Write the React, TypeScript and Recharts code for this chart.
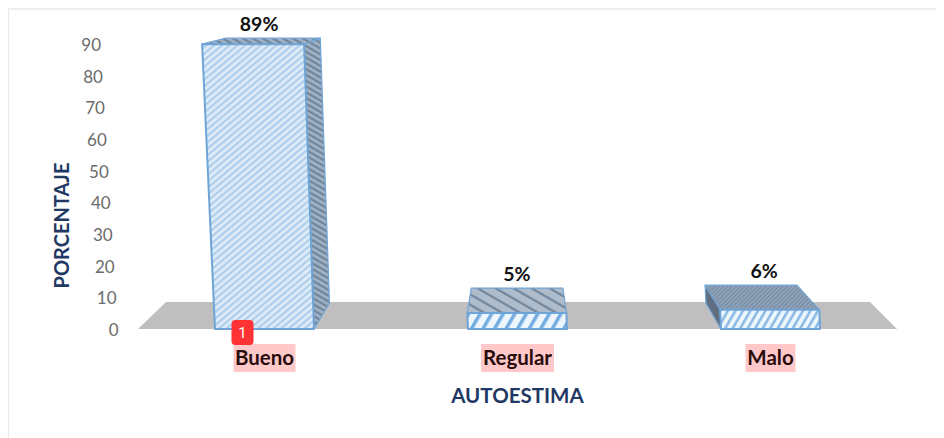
import React from "react";
import { ComposedChart, Bar, XAxis, YAxis, ReferenceArea, LabelList } from "recharts";

const categories = ["Bueno", "Regular", "Malo"];
const percentages = [89, 5, 6];
const yTicks = [0, 10, 20, 30, 40, 50, 60, 70, 80, 90];
const yMax = 90;
const floorTop = 8.5;
const xTitle = "AUTOESTIMA";
const yTitle = "PORCENTAJE";

const W = 936;
const H = 430;
const PLOT_H = 285;
const VANISH_X = 512;
const FONT = "Lato, Carlito, Calibri, sans-serif";
const NAVY = "#1f3864";
const EDGE = "#6fa5d6";
const highlightWidths = [62, 73, 50];

const rows = categories.map((name, i) => ({ name, value: percentages[i] }));

// project a point of the front face to the back of the 3D box
const back = (x: number, y: number, base: number): [number, number] => {
  const f = (base - y) / PLOT_H;
  return [x + (VANISH_X - x) * 0.075, y - (26 - 20 * f)];
};
const pts = (list: [number, number][]) => list.map((p) => p.join(",")).join(" ");

const frontStyles = [
  { size: 5, angle: 50, stripe: 2.2, bg: "#dfecf8", fg: "#aecfec" },
  { size: 10, angle: 30, stripe: 3.5, bg: "#eef6fd", fg: "#74ade2" },
  { size: 6.5, angle: 30, stripe: 2.6, bg: "#eef6fd", fg: "#8dbbe6" },
];
const darkStyles = [
  { size: 5, angle: -60, stripe: 2.2, bg: "#a0b2c5", fg: "#70859a" },
  { size: 9, angle: -60, stripe: 2.2, bg: "#aebccb", fg: "#71869c" },
  { size: 3, angle: 45, stripe: 1.5, bg: "#95a9be", fg: "#778ca3" },
];

const Box3D = (props: any) => {
  const { x, y, width, height, index } = props;
  const base = y + height;
  const f = height / PLOT_H;
  const right0 = x + width;
  const top = y - 3 * f;
  const tl: [number, number] = [x - 13 * f, top];
  const tr: [number, number] = [right0 - 10 * f, top];
  const bl: [number, number] = [x, base];
  const br: [number, number] = [right0, base];
  const btl = back(tl[0], tl[1], base);
  const btr = back(tr[0], tr[1], base);
  const bbl = back(bl[0], bl[1], base);
  const bbr = back(br[0], br[1], base);
  const fs = frontStyles[index];
  const ds = darkStyles[index];
  const fid = `front-${index}`;
  const did = `dark-${index}`;
  return (
    <g>
      <defs>
        <pattern id={fid} width={fs.size} height={fs.size} patternUnits="userSpaceOnUse" patternTransform={`rotate(${fs.angle})`}>
          <rect width={fs.size} height={fs.size} fill={fs.bg} />
          <rect width={fs.stripe} height={fs.size} fill={fs.fg} />
        </pattern>
        <pattern id={did} width={ds.size} height={ds.size} patternUnits="userSpaceOnUse" patternTransform={`rotate(${ds.angle})`}>
          <rect width={ds.size} height={ds.size} fill={ds.bg} />
          <rect width={ds.stripe} height={ds.size} fill={ds.fg} />
        </pattern>
      </defs>
      {btr[0] > tr[0] && (
        <polygon points={pts([tr, btr, bbr, br])} fill={`url(#${did})`} stroke={EDGE} strokeWidth={1.2} strokeLinejoin="round" />
      )}
      {btl[0] < tl[0] && (
        <polygon points={pts([tl, btl, bbl, bl])} fill="#5f6f80" stroke={EDGE} strokeWidth={1.2} strokeLinejoin="round" />
      )}
      <polygon points={pts([tl, btl, btr, tr])} fill={`url(#${did})`} stroke={EDGE} strokeWidth={1.2} strokeLinejoin="round" />
      <polygon points={pts([tl, tr, br, bl])} fill={`url(#${fid})`} stroke={EDGE} strokeWidth={2} strokeLinejoin="round" />
    </g>
  );
};

const Floor = (props: any) => {
  const { x, y, width, height } = props;
  return (
    <polygon
      points={pts([
        [x, y + height],
        [x + 28, y],
        [x + width - 27, y],
        [x + width, y + height],
      ])}
      fill="#bfbfbf"
    />
  );
};

const ValueLabel = (props: any) => {
  const { x, y, width, height, value } = props;
  const base = y + height;
  const f = height / PLOT_H;
  const cx = x + width / 2 - 11.5 * f;
  const top = y - 3 * f;
  const by = back(cx, top, base)[1];
  const lx = cx + (VANISH_X - cx) * 0.0225;
  return (
    <text x={lx} y={by - 14} dy="0.35em" textAnchor="middle" fontFamily={FONT} fontWeight={700} fontSize={19.5} fill="#111">
      {`${value}%`}
    </text>
  );
};

const Badge = (props: any) => {
  const { x, y, width, height, index } = props;
  if (index !== 0) return null;
  const cx = x + width / 2 - 22;
  const base = y + height;
  return (
    <g>
      <rect x={cx - 11} y={base - 9} width={22} height={25} rx={4} fill="#ff3333" />
      <text x={cx} y={base + 4} dy="0.35em" textAnchor="middle" fontFamily="Roboto, sans-serif" fontSize={15} fill="#fff">
        1
      </text>
    </g>
  );
};

const YTick = (props: any) => {
  const { y, payload } = props;
  const right = 110.5 - (17.5 * payload.value) / yMax;
  return (
    <text x={right} y={y + 1} dy="0.35em" textAnchor="end" fontFamily={FONT} fontSize={17} fill="#6b6b6b">
      {payload.value}
    </text>
  );
};

const XTick = (props: any) => {
  const { x, y, payload, index } = props;
  const w = highlightWidths[index];
  return (
    <g>
      <rect x={x - w / 2} y={y + 7} width={w} height={28} fill="#ffc9c9" />
      <text x={x} y={y + 21} dy="0.35em" textAnchor="middle" fontFamily={FONT} fontWeight={700} fontSize={20.5} fill="#2a0c0c">
        {payload.value}
      </text>
    </g>
  );
};

export default function App() {
  return (
    <div style={{ position: "relative", width: W, height: H, background: "#fff" }}>
      <div
        style={{
          position: "absolute",
          left: -1,
          top: 0,
          right: -8,
          bottom: 0,
          borderTop: "2px solid #eeeeee",
          borderLeft: "2px solid #e8e8e8",
        }}
      />
      <div style={{ position: "absolute", left: 0, top: 0 }}>
        <ComposedChart
          width={W}
          height={H}
          data={rows}
          margin={{ top: 36, right: 47, bottom: 0, left: 70 }}
        >
          <XAxis
            dataKey="name"
            axisLine={false}
            tickLine={false}
            tick={<XTick />}
            interval={0}
            height={109}
            label={{
              value: xTitle,
              position: "insideBottom",
              offset: 35,
              fontFamily: FONT,
              fontWeight: 700,
              fontSize: 20.5,
              fill: NAVY,
            }}
          />
          <YAxis
            type="number"
            domain={[0, yMax]}
            ticks={yTicks}
            width={60}
            axisLine={false}
            tickLine={false}
            tick={<YTick />}
            label={{
              value: yTitle,
              angle: -90,
              position: "center",
              dx: -46,
              dy: 39,
              fontFamily: FONT,
              fontWeight: 700,
              fontSize: 20,
              fill: NAVY,
            }}
          />
          <ReferenceArea y1={0} y2={floorTop} shape={<Floor />} ifOverflow="visible" />
          <Bar dataKey="value" barSize={99} shape={<Box3D />} isAnimationActive={false}>
            <LabelList dataKey="value" content={<ValueLabel />} />
            <LabelList dataKey="value" content={<Badge />} />
          </Bar>
        </ComposedChart>
      </div>
    </div>
  );
}
